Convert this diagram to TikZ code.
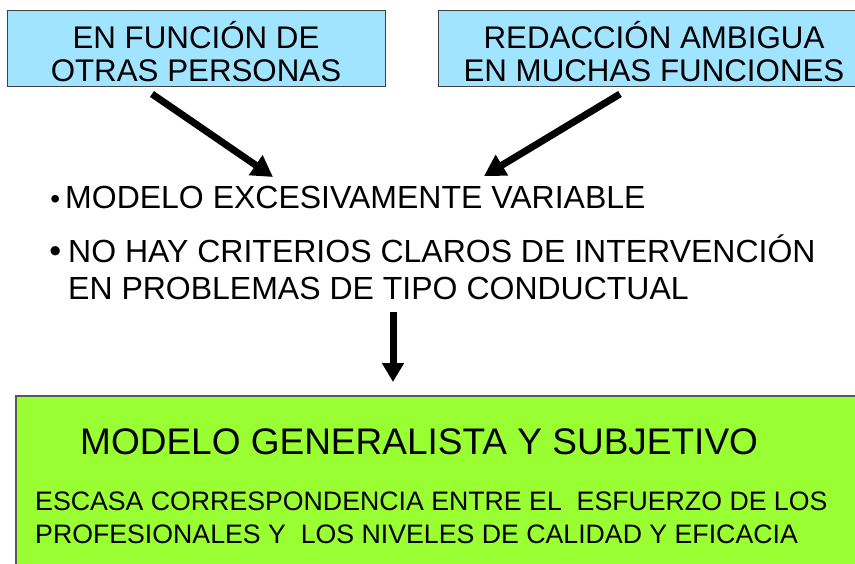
\documentclass[tikz,border=0pt]{standalone}
\usepackage{fontspec}
\setmainfont{Liberation Sans}
\usetikzlibrary{arrows.meta}
\definecolor{boxblue}{RGB}{160,228,255}
\definecolor{boxgreen}{RGB}{153,255,51}
\begin{document}
\begin{tikzpicture}[x=1pt,y=-1pt,
  bluebox/.style={draw=black!75, line width=1pt, fill=boxblue, minimum height=76pt,
    inner sep=0pt, align=center, font=\fontsize{31.3}{33}\selectfont},
  greenbox/.style={draw=black!65, line width=1.5pt, fill=boxgreen, anchor=north west,
    minimum width=860pt, minimum height=185pt, inner sep=0pt},
  bigarrow/.style={line width=7pt, -{Triangle[width=23pt,length=21pt]}},
  downarrow/.style={line width=7pt, -{Triangle[width=21pt,length=19pt]}},
  bullettext/.style={anchor=base west, inner sep=0pt, align=left,
    font=\fontsize{32}{36.5}\selectfont},
]
\useasboundingbox (0,0) rectangle (855,563);
\fill[white] (0,0) rectangle (855,563);

\node[bluebox, minimum width=378pt] (b1) at (196,48)
  {\rule{0pt}{35pt}EN FUNCIÓN DE\\OTRAS PERSONAS};
\node[bluebox, minimum width=432pt] (b2) at (654,48)
  {\rule{0pt}{35pt}REDACCIÓN AMBIGUA\\EN MUCHAS FUNCIONES};

\node[bullettext] (m1) at (65,208)
  {\llap{\fontsize{28}{28}\selectfont •\hspace{5pt}}MODELO EXCESIVAMENTE VARIABLE};
\node[bullettext] (m2) at (68,299)
  {\llap{\fontsize{34}{34}\selectfont •\hspace{7pt}}NO HAY CRITERIOS CLAROS DE INTERVENCIÓN\\EN PROBLEMAS DE TIPO CONDUCTUAL};

\coordinate (a1s) at (152,94);
\coordinate (a1e) at (273,177);
\coordinate (a2s) at (620,94);
\coordinate (a2e) at (484,176);
\coordinate (a3s) at (393,312);
\coordinate (a3e) at (393,382);
\draw[bigarrow] (a1s) -- (a1e);
\draw[bigarrow] (a2s) -- (a2e);
\draw[downarrow] (a3s) -- (a3e);

\node[greenbox] (g) at (15,395) {};
\node[anchor=base west, inner sep=0pt, font=\fontsize{37}{40}\selectfont] (gt) at (80,454)
  {MODELO GENERALISTA Y SUBJETIVO};
\node[anchor=base west, inner sep=0pt, align=left, font=\fontsize{26.7}{33}\selectfont] (gb) at (35,543)
  {ESCASA CORRESPONDENCIA ENTRE EL\ \ ESFUERZO DE LOS\\PROFESIONALES Y\ \ LOS NIVELES DE CALIDAD Y EFICACIA};
\end{tikzpicture}
\end{document}
